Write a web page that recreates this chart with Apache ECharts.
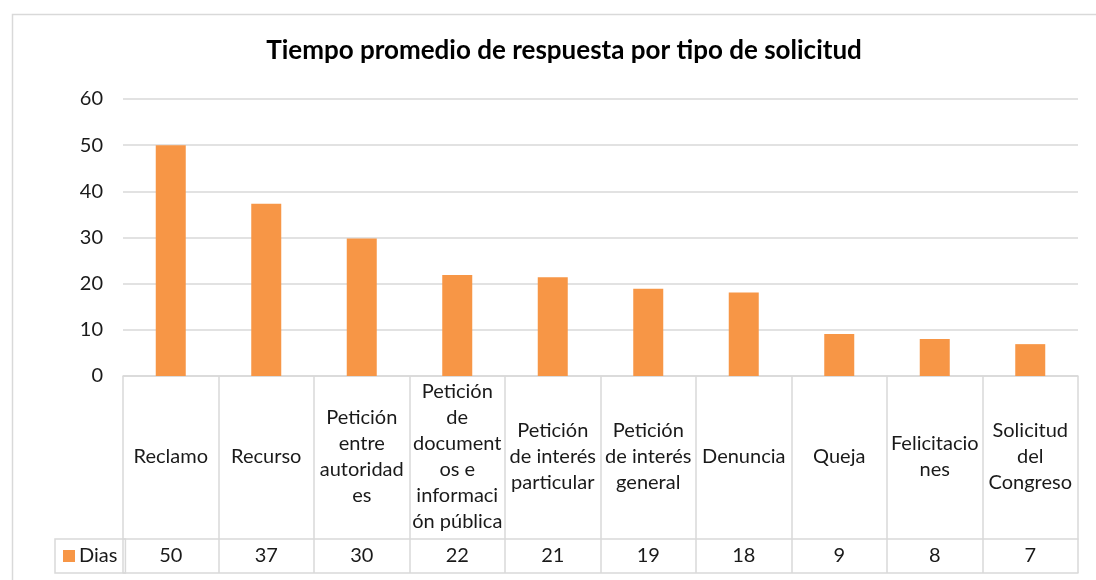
<!DOCTYPE html>
<html>
<head>
<meta charset="utf-8">
<script src="https://cdn.jsdelivr.net/npm/echarts@6/dist/echarts.min.js"></script>
<style>
html,body{margin:0;padding:0;background:#fff;}
#c{width:1096px;height:580px;}
</style>
</head>
<body>
<div id="c"></div>
<script>
// ---- data ----
const categories = ['Reclamo','Recurso','Petición entre autoridades','Petición de documentos e información pública','Petición de interés particular','Petición de interés general','Denuncia','Queja','Felicitaciones','Solicitud del Congreso'];
const categoryLabels = ['Reclamo','Recurso','Petición\nentre\nautoridad\nes','Petición\nde\ndocument\nos e\ninformaci\nón pública','Petición\nde interés\nparticular','Petición\nde interés\ngeneral','Denuncia','Queja','Felicitacio\nnes','Solicitud\ndel\nCongreso'];
const diasValues = [50, 37.3, 29.8, 21.9, 21.4, 18.9, 18.1, 9.1, 8.0, 6.9];
const tableLabels = ['50','37','30','22','21','19','18','9','8','7'];
const yTicks = [0, 10, 20, 30, 40, 50, 60];
const seriesName = 'Dias';
const titleText = 'Tiempo promedio de respuesta por tipo de solicitud';

const FONT = 'Lato';
const GRID_COLOR = '#d9d9d9';
const TEXT = '#1a1a1a';

const chart = echarts.init(document.getElementById('c'), null, {renderer:'canvas'});
chart.setOption({
  animation: false,
  backgroundColor: '#fff',
  textStyle: {fontFamily: FONT},
  graphic: [{
    type: 'rect', left: 10, top: 12, shape: {width: 1200, height: 700},
    style: {fill: 'none', stroke: GRID_COLOR, lineWidth: 1.5}, silent: true, z: -1
  }],
  title: {
    text: titleText, left: 559, top: 33, textAlign: 'center',
    textStyle: {fontFamily: FONT, fontWeight: 'bold', fontSize: 26, color: '#000'}
  },
  legend: {
    data: [seriesName], left: 55, top: 539, orient: 'horizontal',
    icon: 'rect', itemWidth: 12, itemHeight: 12, itemGap: 5,
    padding: [7, 8, 7, 8],
    borderColor: GRID_COLOR, borderWidth: 1.5, borderRadius: 0,
    textStyle: {fontFamily: FONT, fontSize: 20, lineHeight: 20, color: TEXT, padding: [0,0,0,-1]}
  },
  grid: {left: 123, right: 18, top: 99, bottom: 204, containLabel: false},
  xAxis: [{
    type: 'category', data: categoryLabels, position: 'bottom',
    axisLine: {show: true, lineStyle: {color: GRID_COLOR, width: 1.5}},
    axisTick: {show: true, length: 197, interval: 0, lineStyle: {color: GRID_COLOR, width: 1.5}},
    axisLabel: {interval: 0, margin: 81, verticalAlign: 'middle', align: 'center', fontFamily: FONT, fontSize: 20, lineHeight: 26, color: TEXT}
  }, {
    type: 'category', data: tableLabels, position: 'bottom', offset: 163,
    axisLine: {show: true, lineStyle: {color: GRID_COLOR, width: 1.5}},
    axisTick: {show: false},
    axisLabel: {interval: 0, margin: 17, verticalAlign: 'middle', fontFamily: FONT, fontSize: 20, color: TEXT}
  }, {
    type: 'category', data: tableLabels, position: 'bottom', offset: 197,
    axisLine: {show: true, lineStyle: {color: GRID_COLOR, width: 1.5}},
    axisTick: {show: false}, axisLabel: {show: false}
  }],
  yAxis: {
    type: 'value', min: yTicks[0], max: yTicks[yTicks.length-1], interval: 10,
    axisLine: {show: false}, axisTick: {show: false},
    splitLine: {show: true, lineStyle: {color: GRID_COLOR, width: 1.5}},
    axisLabel: {margin: 20, fontFamily: FONT, fontSize: 20, color: TEXT}
  },
  series: [{
    name: seriesName, type: 'bar', data: diasValues, xAxisIndex: 0,
    barWidth: 30, itemStyle: {color: '#f79646'}
  }]
});
</script>
</body>
</html>
